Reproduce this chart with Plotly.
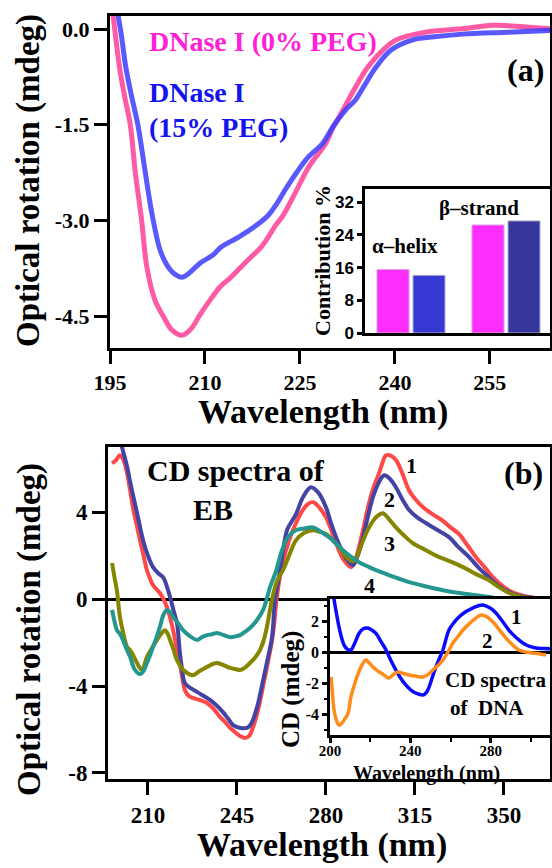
import plotly.graph_objects as go

W, H = 552, 868
def px(x): return x / W
def py(y): return 1 - y / H

SERIF = "Liberation Serif"
SANS = "Liberation Sans"

# ---------------- Panel (a) data ----------------
wl_a_0 = [195.0, 195.5, 196.5, 197.3, 198.2, 199.0, 200.0, 200.8, 202.1, 203.4, 204.8, 206.4, 207.8,
          209.2, 210.8, 212.4, 214.0, 215.5, 217.0, 218.7, 220.0, 221.2, 222.3, 224.3, 226.4, 229.1,
          230.2, 231.8, 233.5, 235.7, 238.1, 240.2, 243.3, 245.5, 247.6, 250.0, 252.8, 255.5, 258.0,
          260.7, 264.8]
cd_a_0 = [0.6, 0.2, -0.6, -1.05, -1.5, -2.25, -3.0, -3.72, -4.25, -4.5, -4.72, -4.80, -4.70,
          -4.48, -4.25, -4.04, -3.9, -3.75, -3.6, -3.44, -3.26, -3.07, -2.93, -2.56, -2.16, -1.79,
          -1.55, -1.27, -0.96, -0.6, -0.33, -0.17, -0.08, -0.04, -0.02, 0.0, 0.03, 0.06, 0.05,
          0.03, 0.0]

wl_a_15 = [195.0, 196.3, 196.8, 197.5, 198.4, 199.4, 200.5, 201.6, 202.9, 204.0, 205.2, 206.4, 207.8,
           209.2, 211.3, 212.5, 213.5, 215.0, 216.6, 218.5, 220.0, 221.2, 222.8, 224.4, 226.2, 228.6,
           230.3, 232.2, 233.7, 235.1, 237.0, 239.4, 242.8, 245.4, 250.7, 258.0, 264.8]
cd_a_15 = [1.0, 0.2, -0.1, -0.6, -1.05, -1.5, -2.2, -2.88, -3.46, -3.7, -3.84, -3.89, -3.8,
           -3.67, -3.54, -3.42, -3.36, -3.28, -3.18, -3.05, -2.92, -2.76, -2.5, -2.26, -2.02, -1.79,
           -1.52, -1.27, -1.12, -0.9, -0.6, -0.33, -0.17, -0.13, -0.08, -0.05, -0.02]

a_xticks = [195, 210, 225, 240, 255]
a_yticks = [0.0, -1.5, -3.0, -4.5]
a_yticktext = ["0.0", "-1.5", "-3.0", "-4.5"]

# inset bar chart (secondary structure)
struct_cats = ["α–helix", "β–strand"]
contrib_0 = [15.5, 26.4]
contrib_15 = [14.1, 27.4]
bar_yticks = [0, 8, 16, 24, 32]

# ---------------- Panel (b) data ----------------
wl_b1 = [195.9, 197.5, 199.0, 200.4, 201.8, 203.0, 204.3, 205.6, 206.9, 208.3, 209.6, 210.8, 212.0,
         213.4, 214.7, 216.1, 217.5, 218.7, 219.9, 221.2, 222.5, 223.5, 224.5, 226.0, 227.7, 230.5,
         233.2, 235.8, 238.3, 240.3, 242.3, 244.5, 246.5, 248.2, 249.8, 251.3, 253.3, 255.3, 257.2,
         259.2, 260.6, 262.5, 265.5, 268.2, 270.9, 273.0, 275.0, 277.5, 280.0, 282.0, 284.0, 286.0,
         287.9, 289.9, 291.5, 293.0, 295.0, 296.9, 298.9, 300.9, 302.3, 303.6, 305.5, 307.5, 310.0,
         312.7, 315.5, 318.2, 322.0, 326.0, 329.0, 332.3, 335.5, 339.0, 342.5, 345.7, 349.0, 352.0,
         356.0, 359.8, 364.0, 368.5]
cd_b1 = [6.25, 6.4, 6.62, 6.4, 5.8, 5.0, 4.1, 3.4, 2.7, 2.0, 1.33, 0.95, 0.64,
         0.45, 0.28, 0.0, -0.37, -0.85, -1.43, -2.2, -2.94, -3.6, -4.18, -4.45, -4.55, -4.65,
         -4.78, -5.05, -5.42, -5.65, -5.93, -6.15, -6.32, -6.39, -6.3, -5.9, -5.1, -4.0, -2.9,
         -1.6, 0.0, 1.4, 2.7, 3.5, 4.1, 4.38, 4.46, 4.2, 3.77, 3.2, 2.57, 2.0,
         1.66, 1.47, 1.8, 2.4, 3.4, 4.4, 5.2, 5.8, 6.3, 6.62, 6.6, 6.4, 5.8,
         5.0, 4.55, 4.23, 3.9, 3.6, 3.3, 3.0, 2.5, 1.93, 1.45, 1.0, 0.65, 0.4,
         0.2, 0.1, 0.03, 0.0]

wl_b2 = [197.0, 199.8, 201.8, 203.0, 204.3, 206.2, 208.1, 210.0, 212.0, 214.0, 216.0, 217.4, 218.7,
         220.0, 221.4, 222.6, 223.5, 224.5, 226.8, 229.3, 231.8, 234.4, 237.0, 239.5, 241.5, 243.5,
         246.0, 248.9, 250.2, 251.3, 253.3, 255.3, 257.0, 258.8, 260.0, 261.5, 263.1, 264.8, 268.2,
         271.0, 274.1, 277.0, 280.0, 282.0, 284.0, 286.0, 287.9, 290.6, 292.5, 294.6, 296.5, 298.5,
         300.5, 302.9, 305.0, 307.5, 310.0, 312.7, 316.0, 319.3, 323.5, 328.4, 332.0, 336.3, 340.0,
         344.1, 348.0, 351.9, 355.0, 358.7, 364.0, 368.5]
cd_b2 = [8.5, 7.0, 6.1, 5.4, 4.7, 3.7, 2.7, 2.0, 1.47, 1.2, 1.0, 0.6, 0.1,
         -0.5, -1.1, -2.5, -3.3, -3.86, -4.1, -4.27, -4.45, -4.64, -4.9, -5.2, -5.5, -5.8,
         -5.92, -5.93, -5.8, -5.56, -4.8, -3.72, -2.8, -1.75, 0.0, 1.0, 2.2, 3.2, 3.9,
         4.7, 5.15, 4.9, 4.23, 3.5, 2.85, 2.3, 1.89, 1.56, 2.0, 2.85, 3.8, 4.7,
         5.3, 5.7, 5.55, 5.15, 4.6, 4.1, 3.75, 3.5, 3.2, 2.85, 2.4, 1.93, 1.45,
         1.0, 0.6, 0.32, 0.18, 0.1, 0.03, 0.0]

wl_b3 = [195.9, 197.0, 197.8, 199.0, 200.4, 201.8, 203.0, 204.3, 205.7, 207.6, 209.6, 211.6, 213.6,
         215.2, 216.7, 217.8, 218.7, 220.0, 221.4, 223.4, 225.4, 227.7, 230.5, 233.2, 235.2, 237.2,
         240.0, 242.3, 244.3, 246.2, 248.2, 250.1, 252.1, 254.1, 255.5, 256.8, 258.0, 259.2, 261.0,
         263.1, 265.5, 268.2, 271.5, 274.9, 277.5, 280.0, 282.5, 285.1, 287.5, 289.9, 291.5, 293.0,
         294.6, 296.5, 298.5, 300.5, 302.4, 305.0, 307.5, 310.5, 314.2, 318.5, 323.3, 328.5, 333.9,
         339.0, 344.1, 348.0, 352.0, 357.5, 362.0, 368.5]
cd_b3 = [1.66, 0.9, 0.4, -0.83, -1.6, -2.2, -2.35, -2.6, -2.94, -3.26, -2.67, -2.25, -1.88,
         -1.6, -1.43, -1.6, -1.88, -2.3, -2.8, -3.2, -3.4, -3.5, -3.3, -3.13, -3.0, -2.94,
         -3.05, -3.17, -3.22, -3.26, -3.15, -2.94, -2.7, -2.34, -1.9, -1.28, -0.5, 0.2, 0.9,
         1.33, 2.0, 2.7, 3.05, 3.17, 3.1, 3.0, 2.75, 2.4, 2.0, 1.75, 1.8, 2.2,
         2.7, 3.2, 3.6, 3.85, 3.95, 3.65, 3.3, 2.95, 2.57, 2.3, 2.0, 1.75, 1.47,
         1.15, 0.87, 0.55, 0.28, 0.1, 0.03, 0.0]

wl_b4 = [195.9, 196.8, 197.8, 199.0, 200.2, 201.6, 203.0, 204.9, 206.9, 208.3, 209.6, 210.8, 212.0,
         213.4, 214.7, 216.0, 217.5, 218.7, 219.9, 221.8, 223.8, 226.5, 229.3, 231.3, 233.2, 235.2,
         237.2, 239.8, 242.3, 244.3, 246.2, 248.2, 250.1, 252.7, 255.3, 256.7, 258.0, 260.4, 262.3,
         264.3, 266.2, 268.2, 271.5, 274.9, 278.0, 281.2, 284.0, 286.7, 289.9, 293.0, 296.5, 299.7,
         306.0, 312.7, 319.5, 326.0, 332.5, 339.0, 345.5, 352.0, 360.0, 369.0]
cd_b4 = [-0.5, -1.0, -1.43, -1.6, -1.88, -2.3, -2.67, -3.26, -3.45, -3.3, -2.94, -2.6, -2.2,
         -1.75, -1.28, -0.75, -0.5, -0.6, -0.83, -1.1, -1.43, -1.7, -1.88, -1.75, -1.66, -1.62,
         -1.56, -1.66, -1.75, -1.72, -1.66, -1.5, -1.33, -1.0, -0.5, 0.0, 0.55, 1.3, 2.1,
         2.7, 3.0, 3.17, 3.25, 3.3, 3.1, 2.85, 2.55, 2.25, 1.95, 1.7, 1.5, 1.33,
         1.05, 0.78, 0.58, 0.41, 0.28, 0.18, 0.08, -0.05, -0.12, -0.18]

b_xticks = [210, 245, 280, 315, 350]
b_yticks = [4, 0, -4, -8]
b_yticktext = ["4", "0", "-4", "-8"]

# inset: CD spectra of DNA
wl_dna1 = [201.0, 202.0, 203.2, 204.5, 205.8, 207.0, 208.5, 210.4, 212.4, 214.4, 216.5, 218.9, 221.0,
           222.9, 225.5, 227.9, 230.5, 232.8, 235.3, 237.8, 240.3, 242.8, 246.3, 248.0, 249.3, 251.0,
           252.7, 254.5, 256.2, 259.2, 261.7, 264.2, 267.5, 271.1, 273.5, 276.1, 279.5, 282.6, 286.0,
           289.0, 292.5, 296.0, 299.0, 302.5, 306.5, 310.4]
cd_dna1 = [4.5, 3.4, 2.5, 1.6, 0.9, 0.45, 0.2, 0.13, 0.6, 1.2, 1.5, 1.55, 1.4,
           1.2, 0.65, 0.13, -0.6, -1.16, -1.7, -2.13, -2.45, -2.65, -2.77, -2.6, -2.26, -1.6,
           -0.97, -0.4, 0.13, 1.42, 1.9, 2.26, 2.6, 2.84, 2.97, 3.03, 2.85, 2.52, 1.95,
           1.42, 0.95, 0.58, 0.38, 0.26, 0.22, 0.2]

wl_dna2 = [200.5, 201.2, 202.0, 203.2, 204.5, 205.8, 207.0, 209.0, 210.4, 212.9, 215.4, 217.9, 219.5,
           221.4, 223.5, 225.4, 227.5, 229.4, 231.5, 233.8, 236.5, 239.3, 242.5, 246.3, 248.8, 251.2,
           253.8, 256.2, 258.7, 261.2, 263.7, 266.2, 269.5, 272.6, 275.1, 278.0, 281.1, 284.5, 287.6,
           291.0, 294.0, 297.5, 301.0, 304.5, 307.5]
cd_dna2 = [-1.6, -2.6, -3.74, -4.4, -4.71, -4.6, -4.39, -3.94, -2.9, -1.8, -0.97, -0.52, -0.7,
           -0.97, -1.2, -1.35, -1.55, -1.68, -1.45, -1.29, -1.38, -1.48, -1.55, -1.61, -1.45, -1.16,
           -0.85, -0.52, 0.0, 0.58, 1.0, 1.42, 1.85, 2.19, 2.39, 2.28, 1.94, 1.4, 0.9,
           0.45, 0.13, 0.0, -0.06, -0.12, -0.19]

dna_xticks = [200, 240, 280]
dna_yticks = [2, 0, -2, -4]
dna_yticktext = ["2", "0", "-2", "-4"]

# ---------------- Figure ----------------
fig = go.Figure()

fig.add_trace(go.Scatter(x=wl_a_0, y=cd_a_0, mode="lines", line=dict(color="#ff5aa6", width=5, shape="spline"),
                         name="DNase I (0% PEG)", xaxis="x", yaxis="y"))
fig.add_trace(go.Scatter(x=wl_a_15, y=cd_a_15, mode="lines", line=dict(color="rgba(60,60,255,0.85)", width=5, shape="spline"),
                         name="DNase I (15% PEG)", xaxis="x", yaxis="y"))

fig.add_trace(go.Bar(x=struct_cats, y=contrib_0, marker=dict(color="#ff2dff", line=dict(color="#d9a0d9", width=1)),
                     name="0% PEG", xaxis="x2", yaxis="y2"))
fig.add_trace(go.Bar(x=struct_cats, y=contrib_15, marker=dict(color=["#3838d4", "#36369c"], line=dict(color="#b0b0d0", width=1)),
                     name="15% PEG", xaxis="x2", yaxis="y2"))

b_colors = ["#ff4848", "#4343a3", "#858500", "#23968f"]
for wl, cd, col, nm in [(wl_b1, cd_b1, b_colors[0], "1"), (wl_b2, cd_b2, b_colors[1], "2"),
                        (wl_b3, cd_b3, b_colors[2], "3"), (wl_b4, cd_b4, b_colors[3], "4")]:
    fig.add_trace(go.Scatter(x=wl, y=cd, mode="lines", line=dict(color=col, width=4, shape="spline"),
                             name=nm, xaxis="x3", yaxis="y3"))

fig.add_trace(go.Scatter(x=wl_dna1, y=cd_dna1, mode="lines", line=dict(color="#0a0aff", width=3.5, shape="spline"),
                         name="DNA 1", xaxis="x4", yaxis="y4"))
fig.add_trace(go.Scatter(x=wl_dna2, y=cd_dna2, mode="lines", line=dict(color="#ff8c1a", width=3.5, shape="spline"),
                         name="DNA 2", xaxis="x4", yaxis="y4"))

axis_common = dict(showline=True, linecolor="black", mirror=True, showgrid=False, zeroline=False,
                   ticks="outside", tickcolor="black", automargin=False)

tf_main = dict(family=SERIF, size=22, color="black", weight="bold")
tf_b = dict(family=SERIF, size=23, color="black", weight="bold")

fig.update_layout(
    width=W, height=H, margin=dict(l=0, r=0, t=0, b=0, autoexpand=False),
    paper_bgcolor="white", plot_bgcolor="white", showlegend=False,
    font=dict(family=SERIF, color="black", weight="bold"),
    bargap=0.242, bargroupgap=0.111, barmode="group",
    xaxis=dict(axis_common, domain=[px(110), px(550)], range=[195, 264.5], anchor="y",
               tickvals=a_xticks, ticklen=13, tickwidth=3, linewidth=3, tickfont=tf_main),
    yaxis=dict(axis_common, domain=[py(348), py(16)], range=[-5.0, 0.204], anchor="x",
               tickvals=a_yticks, ticktext=a_yticktext, ticklen=13, tickwidth=3, linewidth=3, tickfont=tf_main),
    xaxis2=dict(axis_common, domain=[px(365), px(550)], type="category", range=[-0.484, 1.463], anchor="y2",
                ticks="", showticklabels=False, linewidth=2.5),
    yaxis2=dict(axis_common, domain=[py(333), py(189)], range=[0, 35.2], anchor="x2",
                tickvals=bar_yticks, ticklen=5, tickwidth=2.5, linewidth=2.5,
                tickfont=dict(family=SANS, size=17, color="black", weight="bold")),
    xaxis3=dict(axis_common, domain=[px(108), px(550)], range=[194.3, 368.1], anchor="y3",
                tickvals=b_xticks, ticklen=13, tickwidth=3, linewidth=3, tickfont=tf_b),
    yaxis3=dict(axis_common, domain=[py(779), py(447)], range=[-8.28, 7.0], anchor="x3",
                tickvals=b_yticks, ticktext=b_yticktext, ticklen=13, tickwidth=3, linewidth=3, tickfont=tf_b,
                zeroline=True, zerolinecolor="black", zerolinewidth=3),
    xaxis4=dict(axis_common, domain=[px(330), px(550)], range=[200, 309.5], anchor="y4",
                tickvals=dna_xticks, ticklen=5, tickwidth=2.5, linewidth=2.5, ticklabelstandoff=-5,
                tickfont=dict(family=SERIF, size=15, color="black", weight="bold"),
                minor=dict(ticks="outside", ticklen=4, tickwidth=2, dtick=20, tick0=200, tickcolor="black")),
    yaxis4=dict(axis_common, domain=[py(735), py(599)], range=[-5.35, 3.42], anchor="x4",
                tickvals=dna_yticks, ticktext=dna_yticktext, ticklen=5, tickwidth=2.5, linewidth=2.5,
                tickfont=dict(family=SERIF, size=16, color="black", weight="bold"),
                zeroline=True, zerolinecolor="black", zerolinewidth=2.5,
                minor=dict(ticks="outside", ticklen=3, tickwidth=2, dtick=1, tick0=0, tickcolor="black")),
)

def ann(text, x, y, size, color="black", xanchor="center", angle=0, family=SERIF, **kw):
    fig.add_annotation(text=text, x=px(x), y=py(y), xref="paper", yref="paper", showarrow=False,
                       xanchor=xanchor, yanchor="middle", textangle=angle,
                       font=dict(family=family, size=size, color=color, weight="bold"), **kw)

# axis titles
ann("Optical rotation (mdeg)", 28, 181, 33, angle=-90)
ann("Wavelength (nm)", 323, 412, 34)
ann("Optical rotation (mdeg)", 29, 630, 33, angle=-90)
ann("Wavelength (nm)", 322, 845, 34)
ann("Contribution %", 322, 261, 22, angle=-90)
ann("CD (mdeg)", 291, 690, 25, angle=-90)
ann("Wavelength (nm)", 426, 773, 20)

# panel (a) labels
ann("DNase I (0% PEG)", 147, 42, 28, color="#ff1fd6", xanchor="left")
ann("DNase I", 147, 93, 28, color="#1414ee", xanchor="left")
ann("(15% PEG)", 147, 127, 28, color="#1414ee", xanchor="left")
ann("(a)", 525, 70, 32)
fig.add_annotation(text=struct_cats[0], x=struct_cats[0], y=21.3, xref="x2", yref="y2", showarrow=False,
                   xshift=-6, font=dict(family=SERIF, size=21, color="black", weight="bold"))
fig.add_annotation(text=struct_cats[1], x=struct_cats[1], y=30.5, xref="x2", yref="y2", showarrow=False,
                   xshift=-27, font=dict(family=SERIF, size=21, color="black", weight="bold"))

# panel (b) labels
ann("CD spectra of", 145, 470, 30, xanchor="left")
ann("EB", 213, 510, 30)
ann("(b)", 523, 473, 32)
ann("1", 411, 465, 22)
ann("2", 389, 500, 22)
ann("3", 389, 543, 22)
ann("4", 369, 585, 22)
ann("1", 516, 617, 21)
ann("2", 487, 641, 21)
ann("CD spectra", 443, 680, 21, xanchor="left")
ann("of&nbsp;&nbsp;DNA", 448, 708, 21, xanchor="left")

fig.write_html("out.html")
